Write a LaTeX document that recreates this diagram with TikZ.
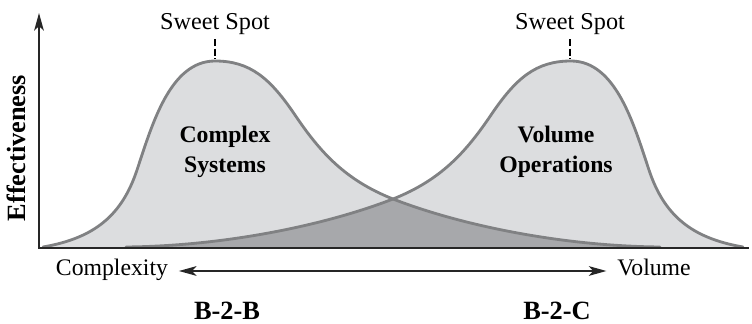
\documentclass[tikz,border=0pt]{standalone}
\usepackage{fontspec}
\setmainfont{Liberation Serif}
\usepackage{tikz}
\usetikzlibrary{arrows.meta}

\definecolor{softgray}{RGB}{220,221,223}
\definecolor{deepgray}{RGB}{167,168,171}
\definecolor{edgegray}{RGB}{128,129,131}

\begin{document}
\begin{tikzpicture}[
  x=0.02cm, y=-0.02cm,
  >={Stealth[length=10pt, width=5.5pt, inset=2.5pt]},
  curve/.style={draw=edgegray, line width=1.6pt, line cap=round},
  axis/.style={line width=1.1pt, black!85},
  dblarr/.style={<->, line width=1.1pt, black!85},
  spot/.style={dashed, dash pattern=on 4pt off 1.5pt, line width=0.6pt},
  sweet/.style={font=\fontsize{13.8}{16}\selectfont, inner sep=2pt},
  hump/.style={font=\fontsize{13.5}{17}\selectfont\bfseries, align=center},
  endlbl/.style={font=\fontsize{13.5}{16}\selectfont, inner xsep=6pt,
    text height=0.7em, text depth=0.22em},
  market/.style={font=\fontsize{15}{18}\selectfont\bfseries},
  % left hump (complex systems)
  cscurve/.style={insert path={(43,247) .. controls (95,238) and (122,215) .. (137,170)
    .. controls (152,125) and (170,61) .. (215,61)
    .. controls (250,61) and (270,78) .. (295,115)
    .. controls (320,152) and (345,180) .. (393,199)
    .. controls (460,225) and (560,246) .. (660,247)}},
  % right hump (volume operations)
  vocurve/.style={insert path={(126,247) .. controls (226,246) and (326,225) .. (393,199)
    .. controls (441,180) and (466,152) .. (491,115)
    .. controls (516,78) and (536,61) .. (571,61)
    .. controls (616,61) and (634,125) .. (649,170)
    .. controls (664,215) and (691,238) .. (743,247)}},
]
\useasboundingbox (0,0) rectangle (752,324);

% --- humps ---
\fill[softgray, cscurve] -- (660,248) -- (43,248) -- cycle;
\fill[softgray, vocurve] -- (743,248) -- (126,248) -- cycle;
\begin{scope}
  \clip[cscurve] -- (660,248) -- (43,248) -- cycle;
  \fill[deepgray, vocurve] -- (743,248) -- (126,248) -- cycle;
\end{scope}
\draw[curve, cscurve];
\draw[curve, vocurve];

% --- axes ---
\coordinate (orig) at (39,248);
\coordinate (ytip) at (39,13);
\coordinate (xend) at (749,248);
\draw[axis, <-] (ytip) -- (orig) -- (xend);
\node[font=\fontsize{15}{18}\selectfont\bfseries, rotate=90] (eff) at (16,148) {Effectiveness};

% --- sweet spots ---
\coordinate (pk1) at (215,59);
\coordinate (pk2) at (570,59);
\node[sweet, anchor=base] (ss1) at (215,30) {Sweet Spot};
\node[sweet, anchor=base] (ss2) at (570,30) {Sweet Spot};
\draw[spot] (ss1.south) -- (ss1.south |- pk1);
\draw[spot] (ss2.south) -- (ss2.south |- pk2);

\node[hump] (cs) at (225,152) {Complex\\Systems};
\node[hump] (vo) at (556,152) {Volume\\Operations};

% --- bottom scale ---
\node[endlbl] (cmplx) at (112,271) {Complexity};
\node[endlbl] (vol) at (654,271) {Volume};
\draw[dblarr] (cmplx) -- (vol);

\node[market, anchor=base] (b2b) at (227,320) {B-2-B};
\node[market, anchor=base] (b2c) at (557,320) {B-2-C};

\end{tikzpicture}
\end{document}
